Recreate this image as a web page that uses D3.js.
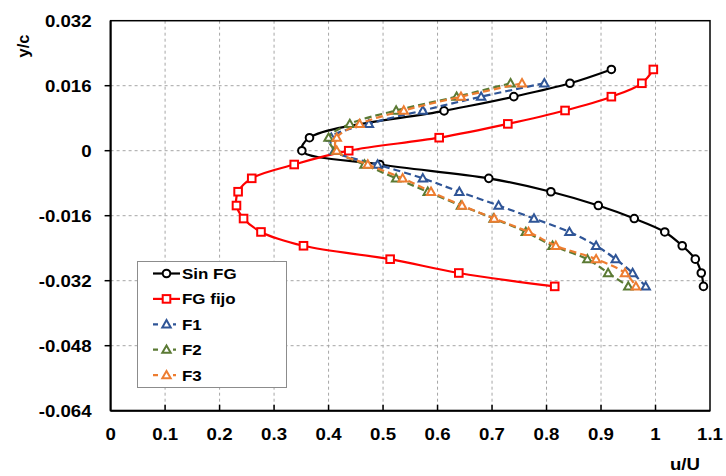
<!DOCTYPE html>
<html>
<head>
<meta charset="utf-8">
<script src="https://cdn.jsdelivr.net/npm/d3@7"></script>
<style>
  body { margin: 0; background: #fff; }
  text { font-family: Arial, "Liberation Sans", sans-serif; font-weight: bold; }
</style>
</head>
<body>
<script>
// y/c levels and u/U readings per series
const ySin = [0.0200, 0.0166, 0.0133, 0.0098, 0.0032, 0, -0.0034, -0.0068, -0.0101, -0.0135, -0.0167, -0.0200, -0.0234, -0.0267, -0.0301, -0.0334];
const uSin = [0.919, 0.843, 0.740, 0.612, 0.365, 0.351, 0.494, 0.694, 0.808, 0.895, 0.961, 1.017, 1.049, 1.073, 1.084, 1.088];

const yFix = [0.0200, 0.0166, 0.0133, 0.0099, 0.0066, 0.0032, 0, -0.0034, -0.0068, -0.0101, -0.0135, -0.0167, -0.0200, -0.0234, -0.0267, -0.0301, -0.0334];
const uFix = [0.996, 0.975, 0.919, 0.834, 0.729, 0.603, 0.437, 0.337, 0.259, 0.234, 0.231, 0.244, 0.276, 0.354, 0.513, 0.639, 0.815];

const yF = [0.0166, 0.0133, 0.0099, 0.0066, 0.0032, 0, -0.0034, -0.0068, -0.0101, -0.0135, -0.0167, -0.0200, -0.0234, -0.0267, -0.0301, -0.0334];
const uF1 = [0.796, 0.680, 0.573, 0.474, 0.405, 0.411, 0.490, 0.573, 0.640, 0.712, 0.777, 0.842, 0.891, 0.927, 0.958, 0.982];
const uF2 = [0.734, 0.635, 0.524, 0.439, 0.400, 0.413, 0.466, 0.524, 0.582, 0.643, 0.703, 0.762, 0.811, 0.875, 0.913, 0.950];
const uF3 = [0.755, 0.643, 0.538, 0.457, 0.415, 0.415, 0.472, 0.536, 0.588, 0.645, 0.704, 0.767, 0.817, 0.891, 0.944, 0.964];

const xTicks = [0, 0.1, 0.2, 0.3, 0.4, 0.5, 0.6, 0.7, 0.8, 0.9, 1, 1.1];
const yTicks = [0.032, 0.016, 0, -0.016, -0.032, -0.048, -0.064];

const series = [
  {name: "Sin FG", u: uSin, y: ySin, color: "#000000", shape: "circle", dash: null},
  {name: "FG fijo", u: uFix, y: yFix, color: "#ff0000", shape: "square", dash: null},
  {name: "F1", u: uF1, y: yF, color: "#2f5597", shape: "triangle", dash: "7,4"},
  {name: "F2", u: uF2, y: yF, color: "#5b7a34", shape: "triangle", dash: "7,4"},
  {name: "F3", u: uF3, y: yF, color: "#ed7d31", shape: "triangle", dash: "7,4"}
];

const W = 726, H = 476;
const plot = {left: 110.6, right: 710, top: 20.7, bottom: 410.7};
const sx = 1.13; // labels look horizontally stretched

const x = d3.scaleLinear().domain([0, 1.1]).range([plot.left, plot.right]);
const y = d3.scaleLinear().domain([-0.064, 0.032]).range([plot.bottom, plot.top]);

const svg = d3.select("body").append("svg").attr("width", W).attr("height", H);

// grid
const grid = svg.append("g").attr("stroke", "#a6a6a6").attr("stroke-dasharray", "3,3").attr("stroke-width", 1);
grid.selectAll("line.v").data(xTicks.filter(t => t > 0 && t < 1.1)).join("line")
  .attr("x1", d => x(d)).attr("x2", d => x(d)).attr("y1", plot.top).attr("y2", plot.bottom);
grid.selectAll("line.h").data(yTicks.filter(t => t < 0.032 && t > -0.064)).join("line")
  .attr("y1", d => y(d)).attr("y2", d => y(d)).attr("x1", plot.left).attr("x2", plot.right);

// frame
svg.append("rect").attr("x", plot.left).attr("y", plot.top)
  .attr("width", plot.right - plot.left).attr("height", plot.bottom - plot.top)
  .attr("fill", "none").attr("stroke", "#000").attr("stroke-width", 1.5);
svg.append("line").attr("x1", plot.left).attr("x2", plot.left).attr("y1", plot.top).attr("y2", plot.bottom)
  .attr("stroke", "#000").attr("stroke-width", 2);
svg.append("line").attr("x1", plot.left).attr("x2", plot.right).attr("y1", plot.bottom).attr("y2", plot.bottom)
  .attr("stroke", "#000").attr("stroke-width", 2);

// ticks
svg.selectAll("line.xt").data(xTicks.slice(1, -1)).join("line")
  .attr("x1", d => x(d)).attr("x2", d => x(d)).attr("y1", plot.bottom).attr("y2", plot.bottom - 6)
  .attr("stroke", "#000").attr("stroke-width", 1.5);
svg.selectAll("line.yt").data(yTicks.slice(1, -1)).join("line")
  .attr("x1", plot.left - 6).attr("x2", plot.left).attr("y1", d => y(d)).attr("y2", d => y(d))
  .attr("stroke", "#000").attr("stroke-width", 1.5);

// tick labels
svg.selectAll("text.xl").data(xTicks).join("text")
  .attr("transform", d => `translate(${x(d)},${plot.bottom + 29}) scale(${sx},1)`)
  .attr("text-anchor", "middle").attr("font-size", 16.5).text(d => String(d));
svg.selectAll("text.yl").data(yTicks).join("text")
  .attr("transform", d => `translate(${plot.left - 19},${y(d) + 6}) scale(${sx},1)`)
  .attr("text-anchor", "end").attr("font-size", 16.5)
  .text(d => d === 0 ? "0" : d3.format(".3f")(d).replace("\u2212", "-"));

// axis titles
svg.append("text").attr("transform", `translate(685,470) scale(${sx},1)`)
  .attr("text-anchor", "middle").attr("font-size", 16.5).text("u/U");
svg.append("text").attr("transform", "translate(29,46) rotate(-90)")
  .attr("text-anchor", "middle").attr("font-size", 16.5).text("y/c");

// markers
function marker(g, shape, color, cx, cy) {
  if (shape === "circle") {
    g.append("circle").attr("cx", cx).attr("cy", cy).attr("r", 3.8)
      .attr("fill", "#fff").attr("stroke", color).attr("stroke-width", 2);
  } else if (shape === "square") {
    g.append("rect").attr("x", cx - 3.8).attr("y", cy - 3.8).attr("width", 7.6).attr("height", 7.6)
      .attr("fill", "#fff").attr("stroke", color).attr("stroke-width", 2);
  } else {
    const s = 4.2;
    g.append("path").attr("d", `M${cx},${cy - s}L${cx + s},${cy + s * 0.75}L${cx - s},${cy + s * 0.75}Z`)
      .attr("fill", "#fff").attr("stroke", color).attr("stroke-width", 2);
  }
}

const line = d3.line().x(d => x(d[0])).y(d => y(d[1])).curve(d3.curveCatmullRom.alpha(0.5));

series.forEach(s => {
  const pts = s.u.map((u, i) => [u, s.y[i]]);
  const g = svg.append("g");
  g.append("path").attr("d", line(pts)).attr("fill", "none")
    .attr("stroke", s.color).attr("stroke-width", 2.2)
    .attr("stroke-dasharray", s.dash);
  pts.forEach(p => marker(g, s.shape, s.color, x(p[0]), y(p[1])));
});

// legend
const lg = svg.append("g");
lg.append("rect").attr("x", 137.5).attr("y", 261.5).attr("width", 149).attr("height", 126)
  .attr("fill", "#fff").attr("stroke", "#8c8c8c").attr("stroke-width", 1);
series.forEach((s, i) => {
  const ry = 273.5 + i * 25.4;
  lg.append("line").attr("x1", 153).attr("x2", 180).attr("y1", ry).attr("y2", ry)
    .attr("stroke", s.color).attr("stroke-width", 2.2)
    .attr("stroke-dasharray", s.dash ? "5,4" : null);
  if (s.dash) {
    lg.append("rect").attr("x", 160).attr("y", ry - 4).attr("width", 13).attr("height", 8).attr("fill", "#fff");
  }
  marker(lg, s.shape, s.color, 166.5, ry);
  lg.append("text").attr("transform", `translate(182,${ry + 5.5}) scale(${sx},1)`)
    .attr("font-size", 15).text(s.name);
});
</script>
</body>
</html>
